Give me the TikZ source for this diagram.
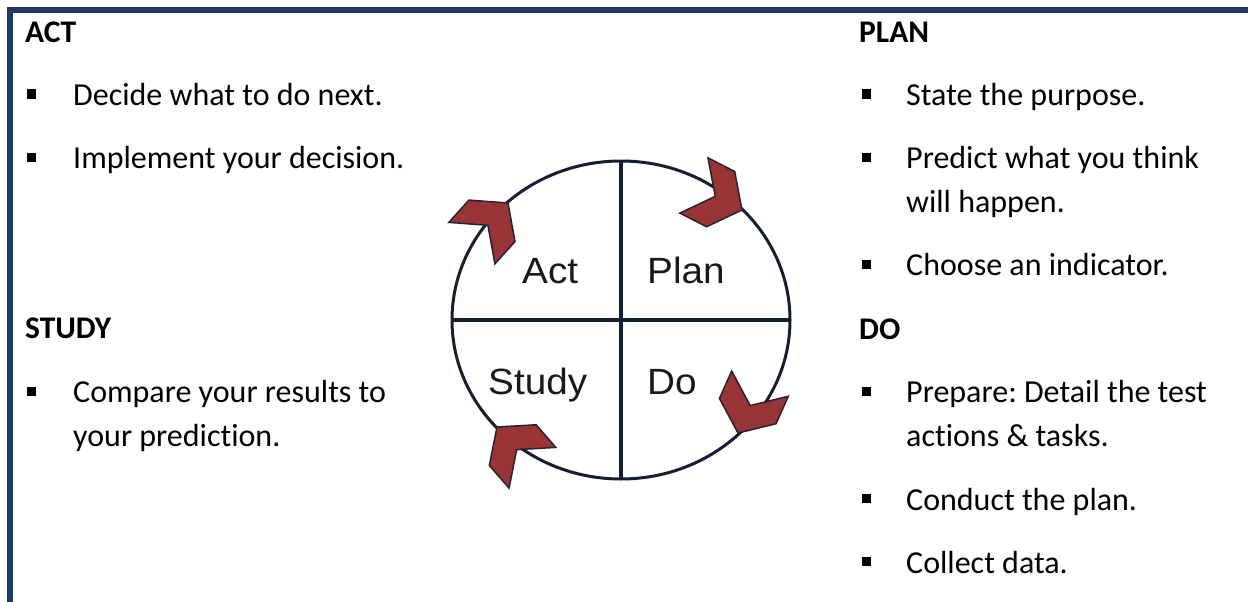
\documentclass[tikz,border=0pt]{standalone}
\usepackage{fontspec}
\usepackage{graphicx}
\setmainfont{Carlito}[Ligatures=NoCommon]
\newfontfamily\arialfont{Liberation Sans}
\frenchspacing
\definecolor{frameblue}{RGB}{31,56,100}
\definecolor{ringline}{RGB}{22,30,52}
\definecolor{chevfill}{RGB}{152,52,54}
\definecolor{chevline}{RGB}{40,34,48}
\begin{document}
\begin{tikzpicture}[x=1pt,y=-1pt,
  head/.style={anchor=base west,inner sep=0pt,font=\fontsize{31.5}{31.5}\selectfont\bfseries},
  % multi-line items are anchored on the baseline of their last line
  item/.style={anchor=base west,inner sep=0pt,align=left,font=\fontsize{32}{44}\selectfont},
  bullet/.style={fill=black,draw=none,minimum size=9pt,inner sep=0pt},
  ringlabel/.style={anchor=base west,inner sep=0pt,text=black!90,font=\fontsize{36.5}{36.5}\selectfont\arialfont},
  ring/.style={draw=ringline,line width=3pt},
  cross/.style={draw=ringline,line width=4pt},
  chevron/.style={fill=chevfill,draw=chevline,line width=1.5pt,line join=miter},
  chev/.pic={\path[chevron] (0,0) -- (-24,31) -- (-54,31) -- (-30,0) -- (-54,-31) -- (-24,-31) -- cycle;}]

% page and frame
\useasboundingbox (0,0) rectangle (1248,602);
\fill[white] (0,0) rectangle (1248,602);
\fill[frameblue] (7,7) rectangle (1248,12.6);
\fill[frameblue] (7,7) rectangle (12.6,602);

% left column
\node[head] (act) at (25,43) {ACT};
\node[bullet] (ba1) at (31.5,94) {};
\node[item] (ta1) at (73,105) {Decide what to do next.};
\node[bullet] (ba2) at (31.5,157) {};
\node[item] (ta2) at (73,168) {Implement your decision.};

\node[head] (study) at (25,338) {STUDY};
\node[bullet] (bs1) at (31.5,391) {};
\node[item] (ts1) at (73,446) {Compare your results to\\your prediction.};

% right column
\node[head] (plan) at (859,43) {PLAN};
\node[bullet] (bp1) at (866.5,94) {};
\node[item] (tp1) at (906,105) {State the purpose.};
\node[bullet] (bp2) at (866.5,157) {};
\node[item] (tp2) at (906,212) {Predict what you think\\will happen.};
\node[bullet] (bp3) at (866.5,264) {};
\node[item] (tp3) at (906,275) {Choose an indicator.};

\node[head] (do) at (859,339) {DO};
\node[bullet] (bd1) at (866.5,391) {};
\node[item] (td1) at (906,446) {Prepare: Detail the test\\actions \& tasks.};
\node[bullet] (bd2) at (866.5,498.5) {};
\node[item] (td2) at (906,510) {Conduct the plan.};
\node[bullet] (bd3) at (866.5,561.5) {};
\node[item] (td3) at (906,573) {Collect data.};

% cycle ring
\coordinate (c) at (621,320);
\coordinate (ntop) at (621,161);
\coordinate (nbot) at (621,479);
\coordinate (nleft) at (452,320);
\coordinate (nright) at (790,320);
\draw[ring] (c) ellipse [x radius=169pt, y radius=159pt];
\draw[cross] (ntop) -- (nbot);
\draw[cross] (nleft) -- (nright);

\node[ringlabel] (lact) at (522,283) {\scalebox{1.06}[1]{Act}};
\node[ringlabel] (lplan) at (647,283) {\scalebox{1.06}[1]{Plan}};
\node[ringlabel] (lstudy) at (488,394) {\scalebox{1.06}[1]{Study}};
\node[ringlabel] (ldo) at (647,394) {\scalebox{1.06}[1]{Do}};

% clockwise arrow heads on the ring
\pic[rotate=48] at (508,203) {chev};
\pic[rotate=-27] at (742,210) {chev};
\pic[rotate=-114] at (738,433) {chev};
\pic[rotate=131] at (497,427) {chev};
\end{tikzpicture}
\end{document}
